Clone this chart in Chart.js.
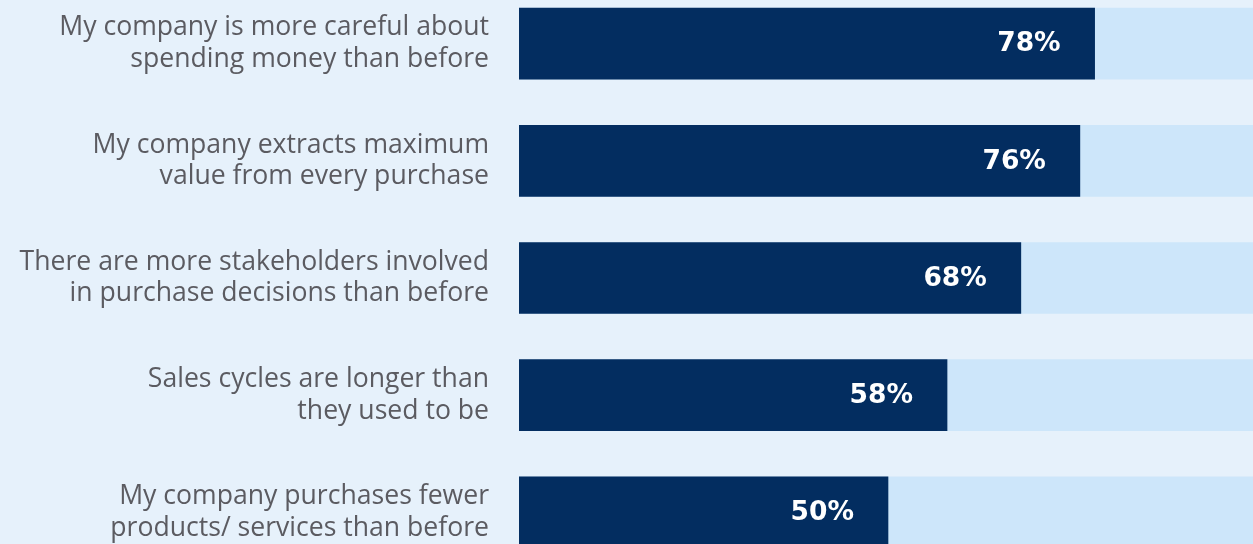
<!DOCTYPE html>
<html>
<head>
<meta charset="utf-8">
<script src="https://cdn.jsdelivr.net/npm/chart.js@4"></script>
<style>
  html, body { margin: 0; padding: 0; width: 1253px; height: 544px; overflow: hidden; background: #e6f1fb; }
  #wrap { position: absolute; left: 0; top: -15px; width: 1253px; height: 586px; }
</style>
</head>
<body>
<div id="wrap"><canvas id="c"></canvas></div>
<script>
const categories = [
  ["My company is more careful about", "spending money than before"],
  ["My company extracts maximum", "value from every purchase"],
  ["There are more stakeholders involved", "in purchase decisions than before"],
  ["Sales cycles are longer than", "they used to be"],
  ["My company purchases fewer", "products/ services than before"]
];
const values = [78, 76, 68, 58, 50];
const trackValues = [100, 100, 100, 100, 100];

const valueLabels = {
  id: 'valueLabels',
  afterDatasetsDraw(chart) {
    const ctx = chart.ctx;
    const meta = chart.getDatasetMeta(0);
    ctx.save();
    ctx.fillStyle = '#ffffff';
    ctx.font = 'bold 26.5px "DejaVu Sans", sans-serif';
    ctx.textAlign = 'right';
    ctx.textBaseline = 'middle';
    meta.data.forEach((bar, i) => {
      ctx.fillText(values[i] + '%', bar.x - 34, bar.y + 1);
    });
    ctx.restore();
  }
};

new Chart(document.getElementById('c'), {
  type: 'bar',
  data: {
    labels: categories,
    datasets: [
      { data: values, backgroundColor: '#032d60', barThickness: 71, grouped: false, order: 0 },
      { data: trackValues, backgroundColor: '#cde6fa', barThickness: 71, grouped: false, order: 1 }
    ]
  },
  options: {
    indexAxis: 'y',
    responsive: true,
    maintainAspectRatio: false,
    animation: false,
    layout: { padding: 0 },
    plugins: { legend: { display: false }, tooltip: { enabled: false } },
    scales: {
      x: { display: false, min: 0, max: 99.46 },
      y: {
        afterFit(scale) { scale.width = 519; scale.paddingTop = 0; scale.paddingBottom = 0; },
        grid: { display: false, drawTicks: false },
        border: { display: false },
        ticks: {
          padding: 30,
          color: '#5b5b61',
          font: { family: '"Open Sans", sans-serif', size: 26.6, lineHeight: 1.19 }
        }
      }
    }
  },
  plugins: [valueLabels]
});
</script>
</body>
</html>
